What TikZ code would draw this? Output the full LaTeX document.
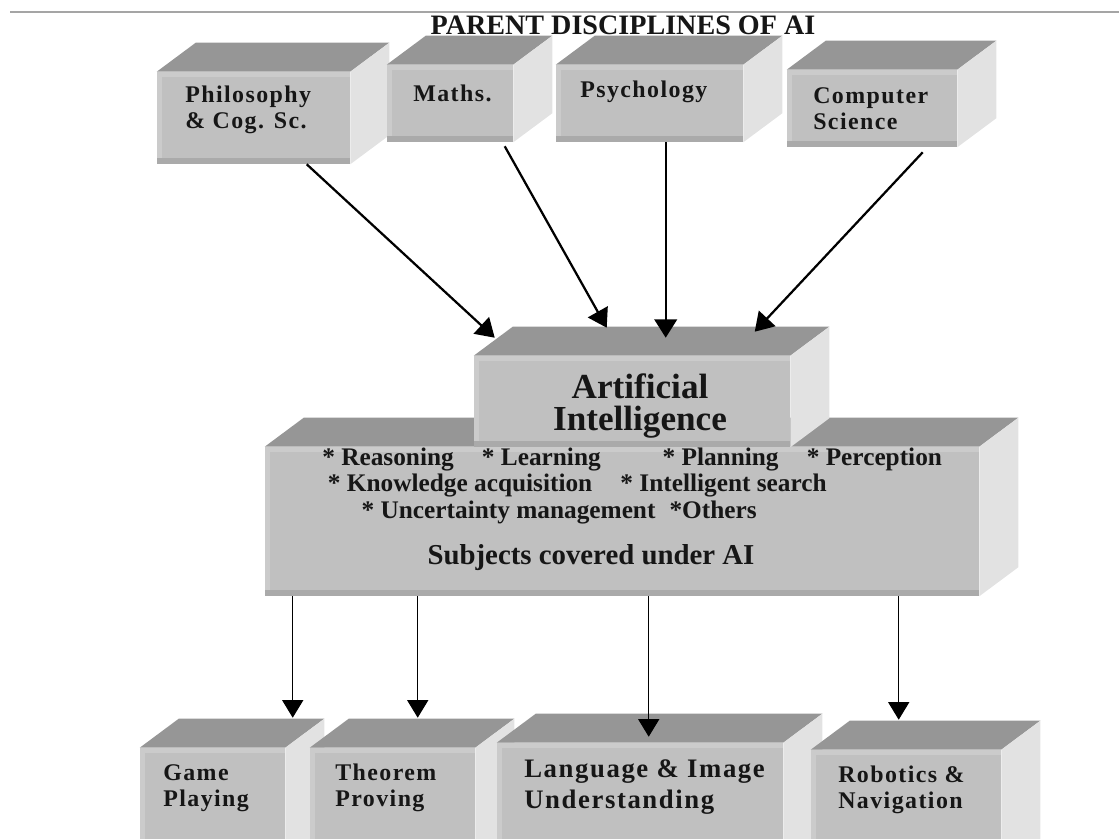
\documentclass[tikz,border=0pt]{standalone}
\usepackage{fontspec}
\setmainfont{Liberation Serif}
\newfontfamily\boxfont[LetterSpace=6]{Liberation Serif}
\usetikzlibrary{arrows.meta, calc, fit}
\definecolor{facefront}{RGB}{192, 192, 192}
\definecolor{facetop}{RGB}{150, 150, 150}
\definecolor{faceside}{RGB}{226, 226, 226}
\definecolor{faceband}{RGB}{170, 170, 170}
\definecolor{faceedge}{RGB}{203, 203, 203}
\definecolor{ruleline}{RGB}{165, 165, 165}
\definecolor{textdark}{RGB}{22, 22, 22}

% one 3D block: name, front corner, opposite front corner
\newcommand{\drawslab}[3]{%
    \node[front, fit={#2 #3}] (#1) {};
    \fill[faceedge] (#1.south west) rectangle ($(#1.north west)+(5,0)$);
    \fill[faceedge] (#1.north west) rectangle ($(#1.north east)+(0,5)$);
    \fill[faceband] (#1.south west) rectangle ($(#1.south east)+(0,-6)$);
    \fill[facetop] (#1.north west) -- ++(39,-29) -- ($(#1.north east)+(39,-29)$) -- (#1.north east) -- cycle;
    \fill[faceside] (#1.north east) -- ++(39,-29) -- ($(#1.south east)+(39,-29)$) -- (#1.south east) -- cycle;
}

\begin{document}
\begin{tikzpicture}[
    x=0.025cm, y=-0.025cm,
    front/.style={inner sep=0pt, fill=facefront},
    boxlabel/.style={
        anchor=west,
        align=left,
        inner sep=0pt,
        text=textdark,
        font=\boxfont\bfseries\fontsize{17}{18.5}\selectfont
    },
    ailabel/.style={
        align=center,
        inner sep=0pt,
        text=textdark,
        font=\bfseries\fontsize{25}{23}\selectfont
    },
    topiclabel/.style={
        anchor=west,
        align=left,
        inner sep=0pt,
        text=textdark,
        font=\bfseries\fontsize{18}{18.8}\selectfont
    },
    bigarrow/.style={line width=1.6pt, -{Triangle[length=13pt, width=16pt]}},
    thinarrow/.style={line width=0.8pt, -{Triangle[length=12.5pt, width=15pt]}}
]
    \useasboundingbox (0,0) rectangle (1119,839);
    \clip (0,0) rectangle (1119,839);

    % Title
    \draw[ruleline, line width=2pt] (10,12) -- (1119,12);
    \node[text=textdark, inner sep=0pt, font=\bfseries\fontsize{20}{24}\selectfont] (title) at (623,25) {PARENT DISCIPLINES OF AI};

    % Parent disciplines
    \drawslab{phil}{(157,72)}{(350,164)}
    \drawslab{math}{(387,65)}{(513,142)}
    \drawslab{psy}{(556,65)}{(743,142)}
    \drawslab{cs}{(787,70)}{(957,147)}

    % Artificial intelligence and its subjects
    \drawslab{subj}{(265,447)}{(979,596)}
    \drawslab{ai}{(474,356)}{(790,447)}

    % Application areas
    \drawslab{game}{(140,748)}{(285,880)}
    \drawslab{thm}{(310,748)}{(475,880)}
    \drawslab{lang}{(497,743)}{(783,880)}
    \drawslab{robot}{(811,750)}{(1001,880)}

    % Labels
    \node[boxlabel] (phil-t) at (185,110) {Philosophy\\\& Cog. Sc.};
    \node[boxlabel] (math-t) at (413,93) {Maths.};
    \node[boxlabel] (psy-t) at (580,92) {Psychology};
    \node[boxlabel] (cs-t) at (813,109) {Computer\\Science};
    \node[ailabel] (ai-t) at (640,406) {Artificial\\Intelligence};
    \node[topiclabel] (topics) at (322,486) {* Reasoning\hspace{20pt}* Learning\hspace{44pt}* Planning\hspace{20pt}* Perception\\
        \hspace{4pt}* Knowledge acquisition\hspace{20pt}* Intelligent search\\
        \hspace{28pt}* Uncertainty management\hspace{10pt}*Others};
    \node[ailabel, font=\bfseries\fontsize{20.5}{24}\selectfont] (subj-t) at (591,558) {Subjects covered under AI};
    \node[boxlabel] (game-t) at (163,788) {Game\\Playing};
    \node[boxlabel] (thm-t) at (335,788) {Theorem\\Proving};
    \node[boxlabel, font=\boxfont\bfseries\fontsize{19}{21.5}\selectfont] (lang-t) at (524,787) {Language \& Image\\Understanding};
    \node[boxlabel] (robot-t) at (838,790) {Robotics \&\\Navigation};

    % Arrows into AI
    \draw[bigarrow] ($(phil.south west)+(150,0)$) -- ($(ai.north west)+(21,-18)$);
    \draw[bigarrow] ($(math.south west)+(118,4)$) -- ($(ai.north west)+(133,-28)$);
    \draw[bigarrow] ($(psy.south west)+(110,0)$) -- ($(ai.north west)+(192,-18)$);
    \draw[bigarrow] ($(cs.south west)+(136,5)$) -- ($(ai.north west)+(281,-24)$);

    % Arrows out of AI
    \draw[thinarrow] ($(subj.south west)+(28,0)$) -- ($(game.north west)+(153,-30)$);
    \draw[thinarrow] ($(subj.south west)+(153,0)$) -- ($(thm.north west)+(108,-30)$);
    \draw[thinarrow] ($(subj.south west)+(384,0)$) -- ($(lang.north west)+(152,-6)$);
    \draw[thinarrow] ($(subj.south west)+(634,0)$) -- ($(robot.north west)+(88,-30)$);
\end{tikzpicture}
\end{document}
